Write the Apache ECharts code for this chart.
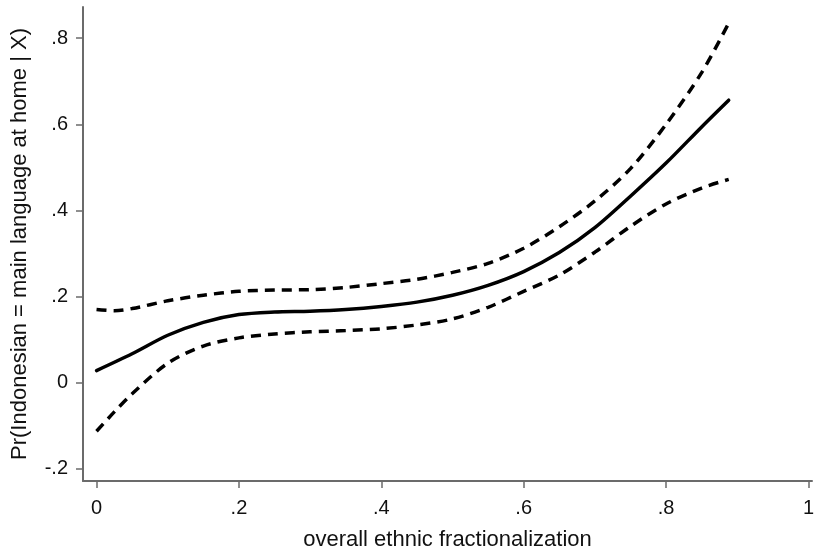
<!DOCTYPE html>
<html>
<head>
<meta charset="utf-8">
<script src="https://cdn.jsdelivr.net/npm/echarts@6/dist/echarts.min.js"></script>
<style>html,body{margin:0;padding:0;background:#fff}#c{width:817px;height:556px}</style>
</head>
<body>
<div id="c"></div>
<script>
const fracMain = [0, 0.05, 0.1, 0.15, 0.2, 0.25, 0.3, 0.35, 0.4, 0.45, 0.5, 0.55, 0.6, 0.65, 0.7, 0.75, 0.8, 0.85, 0.888];
const prMain   = [0.028, 0.067, 0.110, 0.140, 0.158, 0.164, 0.166, 0.170, 0.177, 0.187, 0.203, 0.226, 0.258, 0.302, 0.360, 0.433, 0.510, 0.594, 0.656];
const fracCI = [0, 0.025, 0.05, 0.1, 0.15, 0.2, 0.25, 0.3, 0.35, 0.4, 0.45, 0.5, 0.55, 0.6, 0.65, 0.7, 0.75, 0.8, 0.85, 0.888];
const prUpper = [0.170, 0.167, 0.172, 0.190, 0.203, 0.212, 0.215, 0.216, 0.221, 0.230, 0.240, 0.256, 0.277, 0.312, 0.362, 0.422, 0.497, 0.600, 0.720, 0.835];
const prLower = [-0.113, -0.068, -0.026, 0.045, 0.085, 0.104, 0.113, 0.118, 0.121, 0.125, 0.134, 0.148, 0.175, 0.212, 0.250, 0.303, 0.363, 0.415, 0.452, 0.472];
const xTicks = [0, 0.2, 0.4, 0.6, 0.8, 1];
const yTicks = [-0.2, 0, 0.2, 0.4, 0.6, 0.8];
const xTitle = 'overall ethnic fractionalization';
const yTitle = 'Pr(Indonesian = main language at home | X)';

function fmt(v){
  const r = Math.round(v*10)/10;
  if (r === 0) return '0';
  if (r === 1) return '1';
  let s = String(r);
  return s.replace('0.', '.');
}
const zip = (xs, ys) => xs.map((x,i)=>[x, ys[i]]);
const axisCol = '#6b6b6b';
const font = 'Liberation Sans, Arial, sans-serif';
const lblTxt = {color:'#111', fontFamily:font, fontSize:20};
const ttlTxt = {color:'#111', fontFamily:font, fontSize:22};

const chart = echarts.init(document.getElementById('c'));
chart.setOption({
  animation:false,
  backgroundColor:'#fff',
  grid:{left:83, right:0, top:7, bottom:74, containLabel:false},
  xAxis:{
    type:'value', min:-0.019, max:1.005,
    name:xTitle, nameLocation:'middle', nameGap:48,
    nameTextStyle:Object.assign({}, ttlTxt),
    axisLine:{show:true, onZero:false, lineStyle:{color:axisCol, width:2}},
    axisTick:{show:true, length:7, customValues:xTicks, lineStyle:{color:axisCol, width:1.5}},
    axisLabel:Object.assign({customValues:xTicks, margin:17, formatter:fmt}, lblTxt),
    splitLine:{show:false}
  },
  yAxis:{
    type:'value', min:-0.2285, max:0.8725,
    name:yTitle, nameLocation:'middle', nameGap:52,
    nameTextStyle:Object.assign({}, ttlTxt),
    axisLine:{show:true, onZero:false, lineStyle:{color:axisCol, width:2}},
    axisTick:{show:true, length:7, customValues:yTicks, lineStyle:{color:axisCol, width:1.5}},
    axisLabel:Object.assign({customValues:yTicks, margin:15, formatter:fmt}, lblTxt),
    splitLine:{show:false}
  },
  series:[
    {type:'line', data:zip(fracCI, prUpper), smooth:0.3, symbol:'none',
     lineStyle:{color:'#000', width:3.5, type:[10,7], cap:'butt'}},
    {type:'line', data:zip(fracMain, prMain), smooth:0.3, symbol:'none',
     lineStyle:{color:'#000', width:3.5, type:'solid', cap:'round'}},
    {type:'line', data:zip(fracCI, prLower), smooth:0.3, symbol:'none',
     lineStyle:{color:'#000', width:3.5, type:[10,7], cap:'butt'}}
  ]
});
</script>
</body>
</html>
